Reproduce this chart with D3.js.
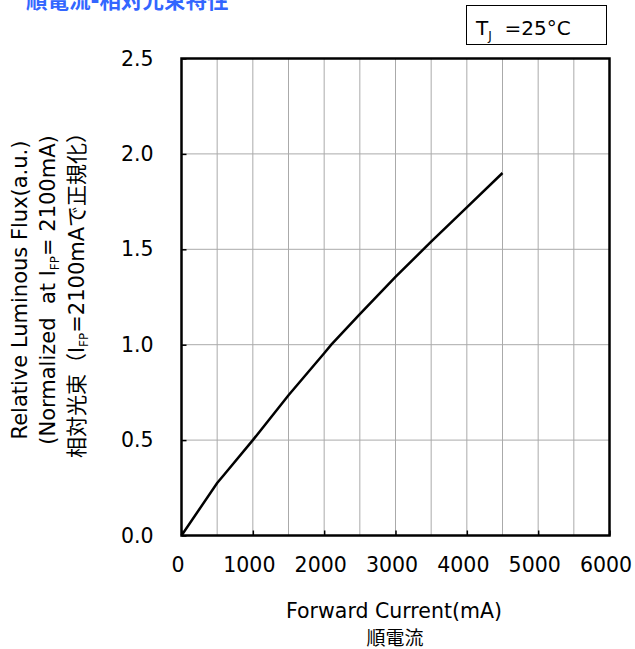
<!DOCTYPE html>
<html>
<head>
<meta charset="utf-8">
<script src="https://cdn.jsdelivr.net/npm/d3@7"></script>
<style>
  body { margin: 0; background: #fff; }
  text { font-family: "DejaVu Sans", "Noto Sans CJK JP", sans-serif; }
</style>
</head>
<body>
<svg id="chart"></svg>
<script>
// Forward current vs relative luminous flux

const currentMA = [0, 500, 600, 1000, 1500, 2000, 2100, 2500, 3000, 3500, 4000, 4500];
const relFlux = [0, 0.275, 0.32, 0.5, 0.735, 0.955, 1.0, 1.16, 1.355, 1.54, 1.72, 1.90];

const xTicks = [0, 1000, 2000, 3000, 4000, 5000, 6000];
const yTicks = [0.0, 0.5, 1.0, 1.5, 2.0, 2.5];
const xGrid = [500, 1000, 1500, 2000, 2500, 3000, 3500, 4000, 4500, 5000, 5500];

const W = 635, H = 649;
const plot = { left: 181.5, right: 609.5, top: 58.5, bottom: 535.5 };
const FONT = "DejaVu Sans, Noto Sans CJK JP, sans-serif";

const svg = d3.select("#chart").attr("width", W).attr("height", H);

const x = d3.scaleLinear().domain([0, 6000]).range([plot.left, plot.right]);
const y = d3.scaleLinear().domain([0, 2.5]).range([plot.bottom, plot.top]);

// Title (cut at the top edge, as in the source)
svg.append("text")
    .attr("x", 26).attr("y", 8)
    .attr("font-size", "21.5px")
    .attr("font-weight", "bold")
    .attr("fill", "#3366ff")
    .attr("font-family", "Noto Sans CJK JP, sans-serif")
    .text("順電流-相対光束特性");

// Grid lines
const grid = svg.append("g").attr("stroke", "#aaaaaa").attr("stroke-width", 1);
xGrid.forEach(v => {
    grid.append("line")
        .attr("x1", x(v)).attr("x2", x(v))
        .attr("y1", plot.top).attr("y2", plot.bottom);
});
yTicks.slice(1, -1).forEach(v => {
    grid.append("line")
        .attr("x1", plot.left).attr("x2", plot.right)
        .attr("y1", y(v)).attr("y2", y(v));
});

// Axes: inward ticks
const xAxis = d3.axisBottom(x).tickValues(xTicks).tickSize(-5).tickPadding(21.5)
    .tickFormat(d3.format("d"));
const gx = svg.append("g")
    .attr("transform", `translate(0,${plot.bottom})`)
    .call(xAxis);
gx.select(".domain").remove();
gx.selectAll(".tick line").attr("stroke", "#000").attr("stroke-width", 1.5);
gx.selectAll(".tick text")
    .attr("font-size", "20.5px").attr("font-family", FONT).attr("fill", "#000")
    .attr("dx", "-4px");

const yAxis = d3.axisLeft(y).tickValues(yTicks).tickSize(-5).tickPadding(28)
    .tickFormat(d3.format(".1f"));
const gy = svg.append("g")
    .attr("transform", `translate(${plot.left},0)`)
    .call(yAxis);
gy.select(".domain").remove();
gy.selectAll(".tick line").attr("stroke", "#000").attr("stroke-width", 1.5);
gy.selectAll(".tick text")
    .attr("font-size", "20.5px").attr("font-family", FONT).attr("fill", "#000");

// Plot frame
svg.append("rect")
    .attr("x", plot.left).attr("y", plot.top)
    .attr("width", plot.right - plot.left)
    .attr("height", plot.bottom - plot.top)
    .attr("fill", "none")
    .attr("stroke", "#000")
    .attr("stroke-width", 2.5);

// Curve
const line = d3.line()
    .x((d, i) => x(currentMA[i]))
    .y(d => y(d));

svg.append("path")
    .datum(relFlux)
    .attr("d", line)
    .attr("fill", "none")
    .attr("stroke", "#000")
    .attr("stroke-width", 2.5);

// Temperature box
svg.append("rect")
    .attr("x", 466.5).attr("y", 5.5)
    .attr("width", 140).attr("height", 39)
    .attr("fill", "#fff")
    .attr("stroke", "#000")
    .attr("stroke-width", 1);

const tj = svg.append("text")
    .attr("x", 476).attr("y", 35)
    .attr("font-size", "20px")
    .attr("font-family", FONT)
    .attr("xml:space", "preserve");
tj.append("tspan").text("T");
tj.append("tspan").attr("font-size", "12px").attr("dy", "5").text("J");
tj.append("tspan").attr("dy", "-5").text("  =25°C");

// X axis title
svg.append("text")
    .attr("x", 394).attr("y", 618)
    .attr("text-anchor", "middle")
    .attr("font-size", "20.5px")
    .text("Forward Current(mA)");

svg.append("text")
    .attr("x", 395).attr("y", 645)
    .attr("text-anchor", "middle")
    .attr("font-size", "19px")
    .attr("font-family", "Noto Sans CJK JP, sans-serif")
    .text("順電流");

// Y axis title: three rotated lines centred at y=290
const yTitle = [
    { x: 27, parts: [["Relative Luminous Flux(a.u.)", false]] },
    { x: 55, parts: [["(Normalized  at I", false], ["FP", true], ["= 2100mA)", false]] },
    { x: 84, parts: [["相対光束（I", false], ["FP", true], ["=2100mAで正規化）", false]] }
];

yTitle.forEach(row => {
    const t = svg.append("text")
        .attr("transform", `translate(${row.x},290) rotate(-90)`)
        .attr("text-anchor", "middle")
        .attr("font-size", "21px")
        .attr("xml:space", "preserve");
    let sub = false;
    row.parts.forEach(([s, isSub]) => {
        const ts = t.append("tspan").text(s);
        if (isSub) {
            ts.attr("font-size", "12px").attr("dy", "4");
            sub = true;
        } else if (sub) {
            ts.attr("dy", "-4");
            sub = false;
        }
    });
});
</script>
</body>
</html>
